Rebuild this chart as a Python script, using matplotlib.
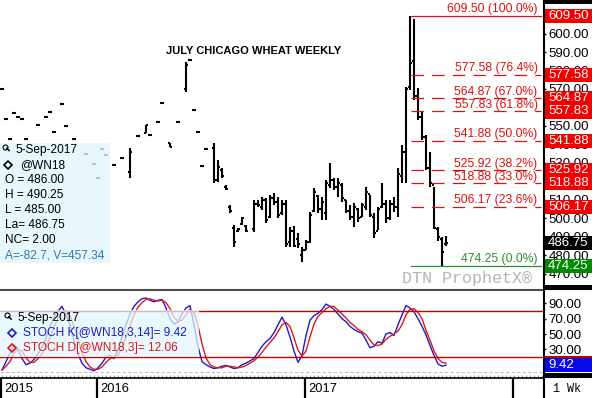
import numpy as np
import matplotlib
matplotlib.use('Agg')
import matplotlib.pyplot as plt
from matplotlib import transforms
from matplotlib.patches import Rectangle
from matplotlib.lines import Line2D

plt.rcParams['font.family'] = ['Liberation Sans', 'DejaVu Sans']

nan = np.nan

# weekly bars @WN18, week 0 = first visible bar (Jul 2015), week 111 = 5-Sep-2017
open_ = [570.0, 553.8, 543.0, 557.0, 555.0, 554.0, 543.0, nan, nan, 550.5,
         nan, 554.8, 557.5, 546.7, nan, 561.9, 550.0, nan, 543.0, nan,
         nan, 534.8, nan, 529.4, 521.8, 537.5, 534.3, nan, 528.9, nan,
         532.7, nan, 525.0, nan, 544.6, nan, 546.2, 545.1, nan, 552.1,
         562.4, nan, 540.8, nan, 552.1, nan, 570.0, 585.5, 558.6, 546.7,
         528.3, 537.5, nan, 538, 521, 526, 517, 506, 495, 493,
         497, 496, nan, 494, 508, 506, 510, 501, 511, 509,
         503, 508, 487, 493, 489, 480, 483, 487, 504, 512,
         505, 503, 518, 521, 517, 518, 510, 504, 501, 505,
         501, 506, 513, 501, 493, 506, 508, 500, 508, 506,
         523, 536, 571, 585, 566, 555, 544, 527, 518, 494,
         489, 486.00]
high = [570.0, 553.8, 543.0, 557.0, 555.0, 554.0, 543.0, nan, nan, 550.5,
        nan, 554.8, 557.5, 546.7, nan, 561.9, 550.0, nan, 543.0, nan,
        nan, 534.8, nan, 529.4, 521.8, 537.5, 534.3, nan, 528.9, nan,
        532.7, nan, 538.0, nan, 544.6, nan, 550.5, 545.1, nan, 552.1,
        562.4, nan, 540.8, nan, 552.1, nan, 584.6, 585.5, 558.6, 546.7,
        528.3, 537.5, nan, 540.8, 531.6, 527.2, 518.0, 507.2, 496.4, 495.0,
        500.7, 496.4, nan, 509.9, 509.9, 511.6, 511.0, 512.6, 513.7, 511.6,
        509.9, 509.9, 495.3, 495.9, 491.9, 484.7, 488.3, 503.6, 516.3, 512.6,
        511.7, 520.8, 529.8, 521.7, 521.7, 519.0, 510.0, 507.2, 508.1, 505.4,
        508.1, 517.2, 512.6, 502.7, 506.3, 519.0, 510.0, 510.0, 511.7, 527.0,
        539.7, 571.0, 609.5, 608.0, 570.5, 557.5, 545.1, 536.0, 517.0, 495.5,
        490.0, 490.25]
low = [570.0, 553.8, 543.0, 557.0, 555.0, 554.0, 543.0, nan, nan, 550.5,
       nan, 554.8, 557.5, 546.7, nan, 561.9, 550.0, nan, 543.0, nan,
       nan, 534.8, nan, 529.4, 521.8, 537.5, 534.3, nan, 528.9, nan,
       532.7, nan, 521.8, nan, 544.6, nan, 546.2, 545.1, nan, 552.1,
       562.4, nan, 538.6, nan, 552.1, nan, 568.4, 585.5, 558.6, 546.7,
       528.3, 537.5, nan, 519.1, 519.7, 521.8, 515.3, 502.9, 484.5, 492.6,
       496.4, 492.6, nan, 492.6, 506.2, 504.5, 497.5, 500.2, 507.2, 500.2,
       501.8, 484.5, 484.5, 484.7, 483.8, 476.6, 482.9, 486.5, 503.6, 502.7,
       499.1, 499.1, 516.3, 515.4, 511.7, 509.0, 502.7, 499.1, 495.5, 498.2,
       500.9, 504.5, 500.9, 489.2, 493.7, 505.4, 497.3, 499.1, 503.6, 501.0,
       519.1, 519.0, 569.5, 564.0, 553.2, 542.4, 526.2, 517.0, 494.0, 488.0,
       474.25, 485.00]
close = [570.0, 553.8, 543.0, 557.0, 555.0, 554.0, 543.0, nan, nan, 550.5,
         nan, 554.8, 557.5, 546.7, nan, 561.9, 550.0, nan, 543.0, nan,
         nan, 534.8, nan, 529.4, 521.8, 537.5, 534.3, nan, 528.9, nan,
         532.7, nan, 536.0, nan, 544.6, nan, 550.5, 545.1, nan, 552.1,
         562.4, nan, 538.6, nan, 552.1, nan, 583.0, 585.5, 558.6, 546.7,
         528.3, 537.5, nan, 521, 528, 523, 516, 504, 487, 494,
         500, 493, nan, 508, 507, 510, 499, 511, 509, 502,
         508, 486, 493, 485, 486, 483, 487, 502, 514, 505,
         509, 519, 521, 517, 519, 511, 504, 501, 506, 500,
         507, 514, 502, 492, 505, 508, 500, 508, 506, 524,
         536, 570, 584, 566, 555, 544, 527, 519, 495, 490,
         482, 486.75]

# stochastics (14,3)
stoch_k = [3, 14, 25, 36, 30, 18, 10, 12, 17, 24,
           32, 45, 60, 72, 80, 86, 75, 62, 42, 24,
           12, 6, 4, 2, 6, 12, 20, 22, 18, 30,
           46, 62, 76, 86, 92, 96, 97, 94, 92, 94,
           95, 84, 70, 63, 66, 76, 84, 87, 62, 34,
           14, 10, 7, 5, 6, 8, 9, 7, 5, 6,
           10, 12, 15, 18, 26, 34, 40, 44, 52, 62,
           72, 62, 46, 28, 13, 22, 48, 68, 74, 77,
           82, 89, 86, 82, 76, 70, 66, 60, 56, 53,
           51, 42, 32, 34, 40, 38, 50, 52, 48, 62,
           75, 87, 84, 79, 70, 60, 49, 35, 22, 11,
           8, 9.42]
stoch_d = [3, 8, 14, 25, 30, 28, 19, 13, 13, 18,
           24, 34, 46, 59, 71, 79, 80, 74, 60, 43,
           26, 14, 7, 4, 4, 7, 13, 18, 20, 23,
           31, 46, 61, 75, 85, 91, 95, 96, 94, 93,
           94, 91, 83, 72, 66, 68, 75, 82, 78, 61,
           37, 19, 10, 7, 6, 6, 8, 8, 7, 6,
           7, 9, 12, 15, 20, 26, 33, 39, 45, 53,
           62, 65, 60, 45, 29, 21, 28, 46, 63, 73,
           78, 83, 86, 86, 81, 76, 71, 65, 61, 56,
           53, 49, 42, 36, 35, 37, 43, 47, 50, 54,
           62, 75, 82, 83, 78, 70, 55, 42, 28, 18,
           13, 12.06]

fib_lv = [609.50, 577.58, 564.87, 557.83, 541.88, 525.92, 518.88, 506.17, 474.25]
fib_pct = ['100.0%', '76.4%', '67.0%', '61.8%', '50.0%', '38.2%', '33.0%', '23.6%', '0.0%']

year_pos = [-0.3, 23.75, 75.75, 127.75]
year_lab = ['2015', '2016', '2017', '']

week = np.arange(len(close))
o = np.array(open_, float); h = np.array(high, float)
l = np.array(low, float); c = np.array(close, float)

W, H = 592.0, 398.0
def fx(px): return px / W
def fy(py): return 1 - py / H

fig = plt.figure(figsize=(5.92, 3.98), dpi=100)
ax = fig.add_axes([0, fy(289), fx(543), 289 / H])
axs = fig.add_axes([0, fy(376), fx(543), (376 - 291) / H])
axd = fig.add_axes([0, 0, fx(543), (398 - 378) / H])
XL = (-0.5, 135.25)

# ---- price panel
ok = ~np.isnan(h)
ax.vlines(week[ok], l[ok], h[ok], color='k', lw=1.5)
ax.hlines(o[ok], week[ok] - 0.45, week[ok], color='k', lw=1.5)
ax.hlines(c[ok], week[ok], week[ok] + 0.45, color='k', lw=1.5)

for lv, pct in zip(fib_lv, fib_pct):
    col = '#2e8b2e' if lv == 474.25 else '#e01010'
    ls = '-' if lv in (609.50, 474.25) else (0, (10, 6.5))
    ax.plot([102.25, 134.75], [lv, lv], color=col, lw=0.9, ls=ls)
    ax.text(133.9, lv + 0.5, '%.2f (%s)' % (lv, pct), ha='right', va='bottom',
            color=col, fontsize=8.7)

ax.set_xlim(*XL)
ax.set_ylim(461.77, 618.16)
ax.yaxis.tick_right()
ax.set_yticks(range(470, 601, 10))
# 560 and 520 sit completely under the price tags
ax.yaxis.set_major_formatter(plt.FuncFormatter(
    lambda v, p: '' if int(round(v)) in (560, 520) else '%.2f' % v))
ax.tick_params(axis='y', length=2.5, width=1, pad=1.5, labelsize=9.5)
ax.set_xticks([])
for s in ax.spines.values():
    s.set_visible(False)

# ---- stochastic panel
axs.plot(week, stoch_k, color='#1c1cc8', lw=1)
axs.plot(week, stoch_d, color='#e01818', lw=1)
axs.axhline(80, color='#c80000', lw=1)
axs.axhline(20, color='#c80000', lw=1)
axs.axhline(0, color='#c0c0c0', lw=0.8, ls=(0, (3, 2)))
axs.set_xlim(*XL)
axs.set_ylim(-4.75, 106.08)
axs.yaxis.tick_right()
axs.set_yticks([30, 50, 70, 90])
axs.yaxis.set_major_formatter(plt.FormatStrFormatter('%.2f'))
axs.tick_params(axis='y', length=2.5, width=1, pad=1.5, labelsize=9.5)
axs.set_xticks([])
for s in axs.spines.values():
    s.set_visible(False)

# ---- date axis
axd.set_xlim(*XL)
axd.set_ylim(0, 1)
axd.vlines(np.arange(0, 136), 1.02, 1.14, color='#a0a0a0', lw=0.8, clip_on=False)
axd.vlines(year_pos, 0, 1, color='k', lw=1.6)
for xp, lab in zip(year_pos, year_lab):
    axd.text(xp + 0.8, 0.45, lab, va='center', ha='left', fontsize=9.3)
axd.set_xticks([]); axd.set_yticks([])
for s in axd.spines.values():
    s.set_visible(False)

def fline(xs, ys, **kw):
    fig.add_artist(Line2D([fx(v) for v in xs], [fy(v) for v in ys],
                          transform=fig.transFigure, **kw))

def frect(x0, y0, x1, y1, **kw):
    fig.add_artist(Rectangle((fx(x0), fy(y1)), fx(x1) - fx(x0), fy(y0) - fy(y1),
                             transform=fig.transFigure, **kw))

fline([0, 543], [290, 290], color='#505050', lw=1.5)
fline([0, 543], [378, 378], color='k', lw=1.2)
fline([543.5, 543.5], [0, 398], color='k', lw=1.5)
frect(543, 0, 592, 4, fc='k', ec='none')
frect(543, 285, 592, 290, fc='k', ec='none')
frect(543, 373, 592, 378, fc='k', ec='none')

# right price tags
tp = transforms.blended_transform_factory(fig.transFigure, ax.transData)
tags = [(lv, '#008a00' if lv == 474.25 else '#f00000') for lv in fib_lv] + [(c[-1], 'k')]
for lv, col in tags:
    fig.add_artist(Rectangle((fx(545), lv - 3.8), fx(46.5), 7.6, transform=tp,
                             fc=col, ec='none', zorder=2))
    fig.text(fx(548), lv, '%.2f' % lv, transform=tp, color='white', va='center',
             ha='left', fontsize=9.5, zorder=3)

ts = transforms.blended_transform_factory(fig.transFigure, axs.transData)
for val, col in [(stoch_d[-1], '#c00000'), (stoch_k[-1], '#0a0ae6')]:
    fig.add_artist(Rectangle((fx(545), val - 9.1), fx(47), 18.2, transform=ts,
                             fc=col, ec='none', zorder=2))
fig.text(fx(548), stoch_k[-1], '%.2f' % stoch_k[-1], transform=ts, color='white',
         va='center', ha='left', fontsize=9.5, zorder=3)
fig.text(fx(553), fy(389), '1 Wk', family='Liberation Mono', fontsize=8.5, va='center')

# title and watermark
fig.text(fx(254), fy(51), 'JULY CHICAGO WHEAT WEEKLY', ha='center', va='center',
         fontsize=8, fontweight='bold')
fig.text(fx(532), fy(278), 'DTN ProphetX®', ha='right', va='center',
         family='Liberation Mono', fontsize=12, color='#b4b4b4')

def magnifier(xc, yc):
    fline([xc], [yc], marker='o', ms=3.6, mfc='none', mec='k', mew=0.8)
    fline([xc + 1.7, xc + 4.2], [yc + 1.7, yc + 4.2], color='k', lw=1)

def diamond(xc, yc, col):
    fline([xc], [yc], marker='D', ms=4.5, mfc='none', mec=col, mew=1.2)

# data window, price
frect(0, 143, 110, 263, fc='#e2f6fb', ec='none', alpha=0.8, zorder=1)
magnifier(5, 146.5)
fig.text(fx(15), fy(150), '5-Sep-2017', va='center', fontsize=8.6)
diamond(8, 165, 'k')
fig.text(fx(20), fy(165), '@WN18', va='center', fontsize=8.6)
rows = ['O = 486.00', 'H = 490.25', 'L = 485.00', 'La= 486.75', 'NC= 2.00']
for k, s in enumerate(rows):
    fig.text(fx(5), fy(180 + 15 * k), s, va='center', fontsize=8.6)
fig.text(fx(5), fy(255), 'A=-82.7, V=457.34', va='center', fontsize=8.6, color='#2e78b8')

# data window, stochastics
frect(0, 310, 199, 357, fc='#e2f6fb', ec='none', alpha=0.75, zorder=1)
magnifier(7, 315)
fig.text(fx(18), fy(318), '5-Sep-2017', va='center', fontsize=8.6)
diamond(12, 333, '#1c1cc8')
fig.text(fx(23), fy(333), 'STOCH K[@WN18,3,14]= %.2f' % stoch_k[-1], va='center',
         fontsize=8.6, color='#1c1cc8')
diamond(12, 348, '#e01818')
fig.text(fx(23), fy(348), 'STOCH D[@WN18,3]= %.2f' % stoch_d[-1], va='center',
         fontsize=8.6, color='#e01818')

fig.savefig('out.png', dpi=100)
